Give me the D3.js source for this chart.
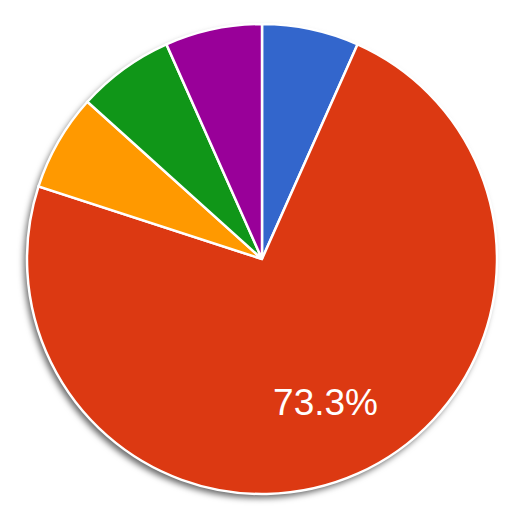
<!DOCTYPE html>
<html>
<head>
<meta charset="utf-8">
<script src="https://cdn.jsdelivr.net/npm/d3@7"></script>
<style>
  body { margin: 0; background: #fff; }
</style>
</head>
<body>
<div id="chart"></div>
<script>
const labels = ["A", "B", "C", "D", "E"];
const values = [1, 11, 1, 1, 1];
const colors = ["#3366cc", "#dc3912", "#ff9900", "#109618", "#990099"];

const width = 512, height = 512;
const cx = 262, cy = 259, radius = 235;

const svg = d3.select("#chart").append("svg")
    .attr("width", width)
    .attr("height", height);

// drop shadow like the original
const filter = svg.append("defs").append("filter")
    .attr("id", "shadow")
    .attr("x", "-10%").attr("y", "-10%")
    .attr("width", "120%").attr("height", "120%");
filter.append("feDropShadow")
    .attr("dx", -3).attr("dy", 4)
    .attr("stdDeviation", 3)
    .attr("flood-color", "#000")
    .attr("flood-opacity", 0.6);

const total = d3.sum(values);
const pie = d3.pie().sort(null).value(d => d.value);
const arc = d3.arc().innerRadius(0).outerRadius(radius);

const data = pie(labels.map((l, i) => ({ label: l, value: values[i], color: colors[i] })));

const g = svg.append("g").attr("transform", `translate(${cx},${cy})`);

g.append("circle")
    .attr("r", radius)
    .attr("fill", "#dc3912")
    .attr("filter", "url(#shadow)");

g.selectAll("path")
    .data(data)
    .join("path")
    .attr("d", arc)
    .attr("fill", d => d.data.color)
    .attr("stroke", "#fff")
    .attr("stroke-width", 2.5);

// only slices big enough get a label
const labelArc = d3.arc().innerRadius(radius * 0.665).outerRadius(radius * 0.665);
g.selectAll("text")
    .data(data.filter(d => d.data.value / total > 0.2))
    .join("text")
    .attr("transform", d => {
        const [x, y] = labelArc.centroid(d);
        return `translate(${x},${y})`;
    })
    .attr("text-anchor", "middle")
    .attr("dy", "0.35em")
    .attr("fill", "#fff")
    .style("font-family", "Arial, 'Liberation Sans', sans-serif")
    .style("font-size", "37px")
    .text(d => (d.data.value / total * 100).toFixed(1) + "%");
</script>
</body>
</html>
